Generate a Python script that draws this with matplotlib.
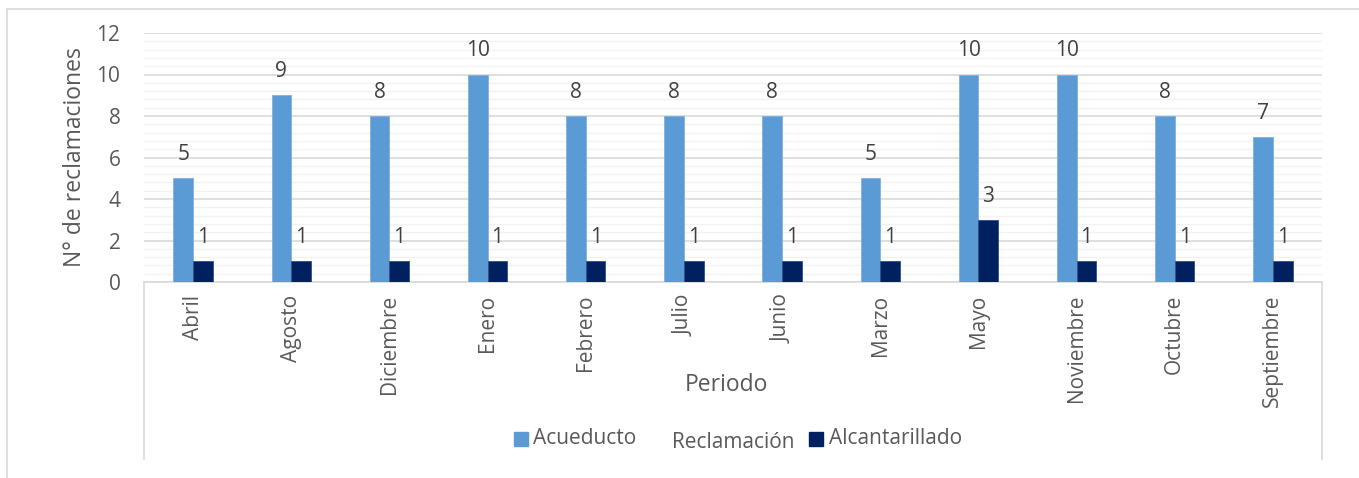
import numpy as np
import matplotlib
matplotlib.use("Agg")
import matplotlib.pyplot as plt
from matplotlib.lines import Line2D
from matplotlib.patches import Rectangle

months = ['Abril', 'Agosto', 'Diciembre', 'Enero', 'Febrero', 'Julio',
          'Junio', 'Marzo', 'Mayo', 'Noviembre', 'Octubre', 'Septiembre']
acueducto = [5, 9, 8, 10, 8, 8, 8, 5, 10, 10, 8, 7]
alcantarillado = [1, 1, 1, 1, 1, 1, 1, 1, 3, 1, 1, 1]

c_acu = '#5B9BD5'
c_alc = '#002060'
txt = '#595959'
grid_major = '#D9D9D9'
grid_minor = '#F2F2F2'

plt.rcParams['font.family'] = ['Open Sans', 'DejaVu Sans']
fs = 15

W, H = 1359, 478
fig = plt.figure(figsize=(W / 100, H / 100), dpi=100, facecolor='white')

# plot area in pixel coords
L, R, T, B = 144, 1322, 33, 282
ax = fig.add_axes([L / W, 1 - B / H, (R - L) / W, (B - T) / H])

x = np.arange(len(months))
w = 0.2
b1 = ax.bar(x - w / 2, acueducto, w, color=c_acu, edgecolor='#7FB0DD', linewidth=0.6, zorder=3)
b2 = ax.bar(x + w / 2, alcantarillado, w, color=c_alc, edgecolor='#2F4F8A', linewidth=0.6, zorder=3)

for bars, vals in ((b1, acueducto), (b2, alcantarillado)):
    for r, v in zip(bars, vals):
        ax.annotate(str(v), (r.get_x() + r.get_width() / 2, v), xytext=(0, 13),
                    textcoords='offset points', ha='center', va='baseline',
                    fontsize=fs, color='#404040')

ax.set_xlim(-0.5, len(months) - 0.5)
ax.set_ylim(0, 12)
ax.set_yticks(range(0, 13, 2))
ax.set_yticks(np.arange(0, 12.01, 0.4), minor=True)
ax.yaxis.grid(True, which='major', color=grid_major, linewidth=1.2, zorder=0)
ax.yaxis.grid(True, which='minor', color=grid_minor, linewidth=1.0, zorder=0)
ax.set_axisbelow(True)
ax.set_xticks(x)
ax.set_xticklabels(months, rotation=90, fontsize=fs, color=txt)
ax.tick_params(axis='x', length=0, pad=9)
ax.tick_params(axis='y', which='both', length=0, pad=17, labelsize=fs, labelcolor=txt)

for s in ('top', 'right', 'left'):
    ax.spines[s].set_visible(False)
ax.spines['bottom'].set_color(grid_major)
ax.spines['bottom'].set_linewidth(1.2)


def fx(px):
    return px / W


def fy(py):
    return 1 - py / H


# category box and outer frame
for xx in (L, R):
    fig.add_artist(Line2D([fx(xx), fx(xx)], [fy(B), fy(459)], color=grid_major, lw=1.2))
fig.add_artist(Line2D([fx(7), fx(W)], [fy(9), fy(9)], color=grid_major, lw=1.2))
fig.add_artist(Line2D([fx(7), fx(7)], [fy(9), fy(H)], color=grid_major, lw=1.2))

fig.text(fx(75), fy((T + B) / 2), 'N° de reclamaciones', rotation=90,
         ha='center', va='center', fontsize=16.5, color=txt)
fig.text(fx(726), fy(385), 'Periodo', ha='center', va='center', fontsize=16.5, color=txt)

# legend with title placed between entries
fig.add_artist(Rectangle((fx(514), fy(446)), fx(14), 14 / H, color=c_acu))
fig.text(fx(533), fy(438), 'Acueducto', ha='left', va='center', fontsize=fs, color=txt)
fig.text(fx(672), fy(443), 'Reclamación', ha='left', va='center', fontsize=fs, color=txt)
fig.add_artist(Rectangle((fx(809), fy(446)), fx(14), 14 / H, color=c_alc))
fig.text(fx(829), fy(438), 'Alcantarillado', ha='left', va='center', fontsize=fs, color=txt)

fig.savefig('out.png', dpi=100, facecolor='white')
